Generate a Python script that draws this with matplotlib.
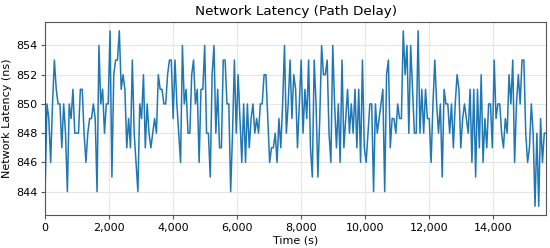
import matplotlib
matplotlib.use("Agg")
import matplotlib.pyplot as plt
import matplotlib.ticker as mticker
import numpy as np

seg1 = [844, 850, 849, 846, 850, 853, 851, 850, 850, 847, 850, 848, 844, 850, 849, 851, 848, 848, 848, 851,
        851, 848, 846, 848, 849, 849, 850, 849, 844, 854, 850, 851, 848, 850, 850, 855, 845, 852, 853, 853]
seg2 = [855, 851, 852, 851, 847, 849, 847, 853, 848, 846, 844, 850, 849, 852, 847, 850, 848, 847, 848, 849,
        848, 852, 851, 851, 850, 850, 852, 853, 853, 849, 853, 850, 848, 846, 854, 850, 851, 848, 848, 852]
seg3 = [853, 850, 851, 846, 851, 851, 854, 848, 848, 845, 852, 854, 848, 851, 847, 847, 853, 853, 850, 850,
        844, 848, 853, 848, 852, 849, 846, 850, 846, 850, 847, 849, 850, 848, 849, 848, 850, 850]
seg4 = [852, 852, 849, 846, 847, 847, 848, 846, 849, 847, 850, 854, 848, 850, 853, 849, 852, 851, 847, 850,
        853, 848, 851, 849, 853, 847, 845, 853, 850, 845, 849, 854, 852, 852, 853, 848, 846, 854, 850]
seg5 = [847, 850, 846, 853, 847, 849, 851, 848, 850, 848, 851, 847, 851, 846, 853, 847, 846, 848, 850, 850,
        844, 850, 848, 849, 850, 851, 844, 852, 853, 847, 849, 849, 848, 850, 849, 849, 855]
seg6 = [852, 854, 848, 854, 851, 848, 848, 855, 848, 851, 848, 851, 849, 849, 846, 850, 853, 850, 848, 850,
        845, 851, 850, 850, 848, 850, 847, 850, 852, 851, 847, 849, 850, 849, 848, 851, 846, 851]
seg7 = [845, 851, 847, 852, 846, 849, 847, 850, 850, 847, 853, 849, 850, 850, 848, 847, 849, 848, 852, 850,
        853, 846, 850, 852, 850, 853, 853, 848, 846, 847, 850, 848, 843, 848, 843, 849, 846, 848, 848]

latency = np.array(seg1 + seg2 + seg3 + seg4 + seg5 + seg6 + seg7)
sample_step = 58
time_s = np.arange(len(latency)) * sample_step

fig = plt.figure(figsize=(5.5, 2.48), dpi=100)
ax = fig.add_axes([0.082, 0.133, 0.911, 0.778])
ax.plot(time_s, latency, color="#1f77b4", linewidth=1.1)
ax.set_xlim(0, time_s[-1])
lo, hi = latency.min(), latency.max()
pad = (hi - lo) * 0.05
ax.set_ylim(lo - pad, hi + pad)
ax.set_yticks(np.arange(844, 856, 2))
ax.xaxis.set_major_locator(mticker.MultipleLocator(2000))
ax.xaxis.set_major_formatter(mticker.FuncFormatter(lambda v, p: f"{int(v):,}"))
ax.grid(True, color="#e6e6e6", linewidth=0.8)
ax.set_axisbelow(True)
for s in ax.spines.values():
    s.set_color("#555555")
ax.tick_params(labelsize=8, length=3, pad=2.5, color="#555555")
ax.set_xlabel("Time (s)", fontsize=8, labelpad=2)
ax.set_ylabel("Network Latency (ns)", fontsize=8, labelpad=3)
ax.set_title("Network Latency (Path Delay)", fontsize=9.7, pad=5)
fig.savefig("out.png", dpi=100)
